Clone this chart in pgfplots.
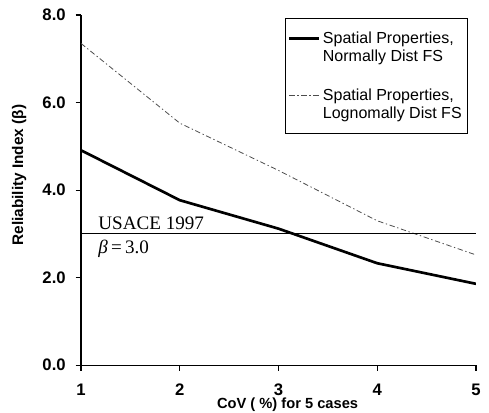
\documentclass[border=0pt]{standalone}
\usepackage{pgfplots}
\pgfplotsset{compat=1.18}
\usepackage{fontspec}
\setmainfont{Liberation Sans}
\newfontfamily\timesfont{Liberation Serif}

\pgfplotstableread{
x  normal  lognormal
1  4.91    7.35
2  3.77    5.53
3  3.12    4.45
4  2.33    3.30
5  1.86    2.52
}\betadata

\begin{document}
\begin{tikzpicture}
% frame of the page, 1px = 0.75pt
\useasboundingbox (-60.75pt,-35.25pt) rectangle (305.75pt,273.75pt);
\begin{axis}[
    at={(0,0)}, anchor=south west,
    scale only axis,
    width=296pt, height=262.5pt,
    xmin=1, xmax=5,
    ymin=0, ymax=8,
    xtick={1,2,3,4,5},
    ytick={0,2,4,6,8},
    axis lines*=left,
    tick align=outside,
    major tick length=4pt,
    axis line style={line width=1pt},
    tick style={line width=0.9pt, black},
    /pgf/number format/assume math mode=true,
    ticklabel style={font=\bfseries\fontsize{12.5}{14}\selectfont},
    xticklabel style={inner sep=0pt, yshift=-9.5pt},
    yticklabel style={xshift=-4pt},
    yticklabel={\pgfmathprintnumber[fixed, fixed zerofill, precision=1]{\tick}},
    xlabel={CoV ( \%) for 5 cases},
    ylabel={Reliability Index (β)},
    xlabel style={font=\bfseries\fontsize{11}{13}\selectfont, inner sep=0pt,
        at={(axis description cs:0.523,-0.114)}, anchor=center},
    ylabel style={font=\bfseries\fontsize{11.5}{13}\selectfont,
        at={(axis description cs:-0.157,0.543)}, anchor=center},
    legend style={at={(rel axis cs:0.516,0.991)}, anchor=north west,
        draw=black, line width=0.7pt, font=\fontsize{12}{13.5}\selectfont,
        cells={align=left}, inner xsep=2pt, inner ysep=8pt, row sep=15pt},
    legend image code/.code={
        \path[draw=none] (0cm,-0.24cm) -- (0.78cm,-0.24cm);
        \draw[#1] (0cm,0.24cm) -- (0.78cm,0.24cm);},
    legend cell align=left,
]
\addplot[black, line width=2pt] table[x=x, y=normal] {\betadata};
\addlegendentry{Spatial Properties,\\Normally Dist FS}
\addplot[black!70, line width=0.6pt, dash pattern=on 4pt off 2pt on 1pt off 2pt] table[x=x, y=lognormal] {\betadata};
\addlegendentry{Spatial Properties,\\Lognomally Dist FS}
\addplot[black, line width=0.7pt, forget plot] coordinates {(1,3) (5,3)};
\node[anchor=south west, font=\timesfont\fontsize{14.3}{16}\selectfont, inner sep=1pt] at (axis cs:1.16,3.05) {USACE 1997};
\node[anchor=north west, font=\timesfont\fontsize{14.3}{16}\selectfont, inner sep=1pt] at (axis cs:1.16,2.9) {\textit{β}\,=\,3.0};
\end{axis}
\end{tikzpicture}
\end{document}
